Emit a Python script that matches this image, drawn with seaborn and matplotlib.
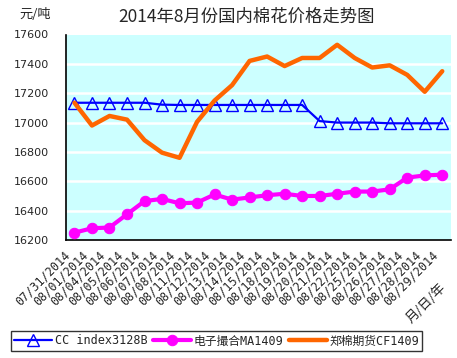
import numpy as np
import pandas as pd
import seaborn as sns
import matplotlib.pyplot as plt
from matplotlib.transforms import ScaledTranslation

sns.set_style("white")
plt.rcParams['font.family'] = ['DejaVu Sans', 'Noto Sans CJK SC']

dates = ["07/31/2014", "08/01/2014", "08/04/2014", "08/05/2014", "08/06/2014",
         "08/07/2014", "08/08/2014", "08/11/2014", "08/12/2014", "08/13/2014",
         "08/14/2014", "08/15/2014", "08/18/2014", "08/19/2014", "08/20/2014",
         "08/21/2014", "08/22/2014", "08/25/2014", "08/26/2014", "08/27/2014",
         "08/28/2014", "08/29/2014"]
cc_index = [17135, 17135, 17135, 17135, 17135, 17122, 17120, 17120, 17120, 17120,
            17120, 17120, 17120, 17120, 17010, 17000, 17000, 17000, 16995, 16995,
            16995, 16995]
ma1409 = [16250, 16280, 16285, 16375, 16465, 16480, 16450, 16455, 16510, 16475,
          16490, 16505, 16515, 16500, 16500, 16515, 16530, 16530, 16545, 16625,
          16640, 16645]
cf1409 = [17135, 16980, 17045, 17020, 16880, 16795, 16760, 17005, 17150, 17255,
          17420, 17450, 17385, 17440, 17440, 17530, 17440, 17375, 17390, 17325,
          17210, 17350]
series_names = ["CC index3128B", "电子撮合MA1409", "郑棉期货CF1409"]

W, H = 457, 358
fig = plt.figure(figsize=(W / 100, H / 100), dpi=100)
x0, x1, y0, y1 = 65.7, 451, 34.5, 240
ax = fig.add_axes([x0 / W, 1 - y1 / H, (x1 - x0) / W, (y1 - y0) / H])
ax.set_facecolor("#CCFFFF")

pos = np.arange(len(dates))
df = pd.DataFrame({"pos": pos, "cc": cc_index, "ma": ma1409, "cf": cf1409})

sns.lineplot(data=df, x="pos", y="cc", ax=ax, color="#0000FF", lw=1.6,
             marker="^", markersize=9, markerfacecolor="none",
             markeredgecolor="#0000FF", markeredgewidth=1.0,
             label=series_names[0], zorder=3)
sns.lineplot(data=df, x="pos", y="ma", ax=ax, color="#FF00FF", lw=3,
             marker="o", markersize=7.5, markeredgecolor="#FF00FF",
             label=series_names[1], zorder=3)
sns.lineplot(data=df, x="pos", y="cf", ax=ax, color="#FF6600", lw=3.2,
             label=series_names[2], zorder=4)

ax.set_xlim(-0.5, len(dates) - 0.5)
ax.set_ylim(16200, 17600)
ax.set_yticks(range(16200, 17601, 200))
ax.grid(False)
for v in range(16400, 17600, 200):
    ax.axhline(v, color="white", lw=1.8, zorder=1)

# tick marks at category boundaries, labels at centres
ax.set_xticks(np.arange(-0.5, len(dates), 1))
ax.set_xticklabels([])
ax.set_xticks(pos, dates, minor=True)
ax.tick_params(axis="x", which="major", direction="in", length=4, width=1, color="black")
ax.tick_params(axis="x", which="minor", length=0, pad=4)
ax.tick_params(axis="y", direction="in", length=4, width=1, color="black", pad=12,
               labelsize=8)
for lab in ax.get_xticklabels(minor=True):
    lab.set_rotation(45)
    lab.set_rotation_mode("anchor")
    lab.set_ha("right")
    lab.set_va("center")
    lab.set_fontfamily("DejaVu Sans Mono")
    lab.set_fontsize(8.5)
    lab.set_transform(lab.get_transform() + ScaledTranslation(-6 / 100, -8 / 100, fig.dpi_scale_trans))

for s in ["top", "right"]:
    ax.spines[s].set_visible(False)
for s in ["left", "bottom"]:
    ax.spines[s].set_color("black")
    ax.spines[s].set_linewidth(1.2)
ax.set_xlabel("")
ax.set_ylabel("")

fig.text(247 / W, 1 - 17 / H, "2014年8月份国内棉花价格走势图", ha="center", va="center",
         fontsize=12.5, family=["Noto Sans CJK SC"])
fig.text(35 / W, 1 - 15 / H, "元/吨", ha="center", va="center",
         fontsize=9.5, family=["Noto Sans CJK SC"])
fig.text(426 / W, 1 - 303 / H, "月/日/年", ha="center", va="center", rotation=45,
         fontsize=9.5, family=["Noto Sans CJK SC"])

ax.get_legend().remove()
handles, labels = ax.get_legend_handles_labels()
leg = fig.legend(handles, labels, loc="center left", bbox_to_anchor=(5 / W, 1 - 341 / H),
                 ncol=3, frameon=True, fancybox=False, handlelength=3.2,
                 handletextpad=0.2, columnspacing=0.5, borderpad=0.3,
                 prop={"family": ["DejaVu Sans Mono", "Noto Sans CJK SC"], "size": 8.5})
leg.get_frame().set_edgecolor("black")
leg.get_frame().set_linewidth(1.0)

fig.savefig("out.png", dpi=100)
